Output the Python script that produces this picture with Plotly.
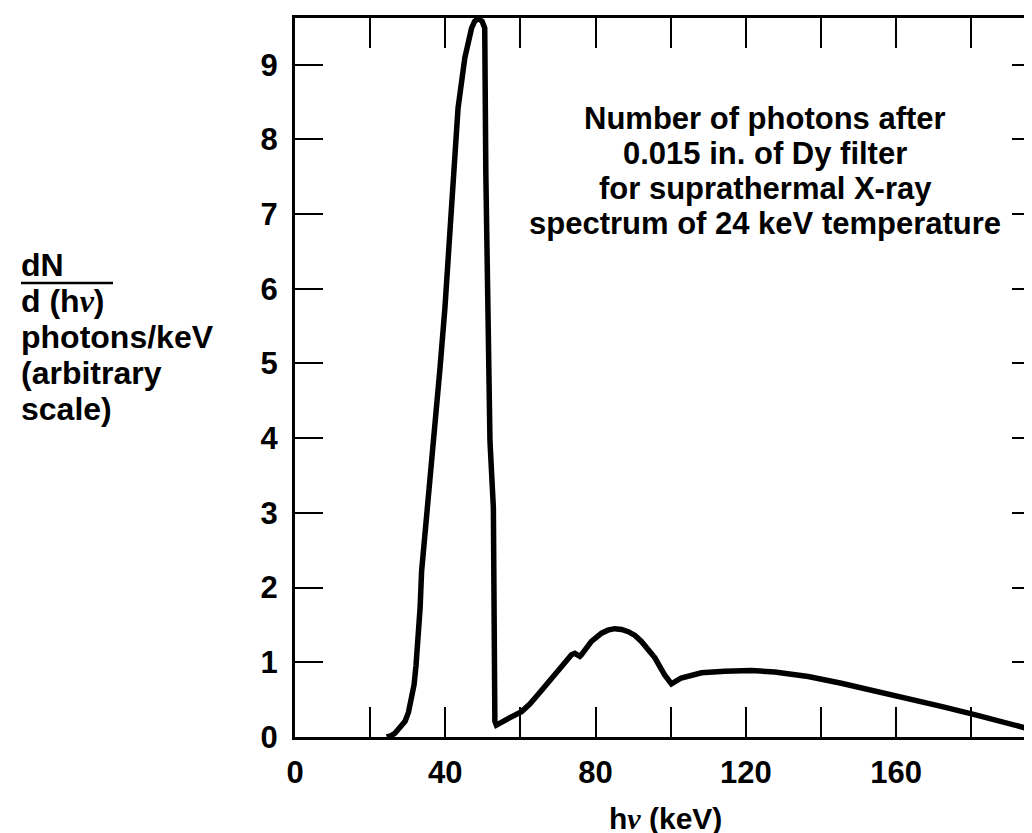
import plotly.graph_objects as go

# ---- data ----
energy_kev = [24.4, 25.5, 26.6, 28.0, 29.3, 30.2, 31.0, 31.7, 32.2, 32.8, 33.3, 33.7, 34.1,
              35.5, 37.2, 38.6, 39.9, 43.4, 45.2, 47.0, 47.8, 48.8, 49.8, 50.5, 50.8, 51.4,
              51.9, 52.8, 53.2, 53.6, 55.9, 58.0, 60.3, 62.5, 64.7, 69.2, 73.6, 74.5, 75.8,
              76.2, 78.9, 81.6, 83.3, 85.1, 86.9, 88.7, 90.5, 92.2, 94.0, 95.8, 98.4, 100.2,
              102.8, 105.5, 108.2, 114.4, 121.5, 127.7, 136.6, 145.4, 154.3, 163.2, 172.0,
              180.9, 189.8, 197.8, 198.3]
photons = [0.0, 0.015, 0.05, 0.12, 0.21, 0.33, 0.50, 0.70, 0.95, 1.28, 1.73, 2.22, 2.44,
           3.07, 4.05, 4.94, 5.74, 8.42, 9.09, 9.49, 9.58, 9.62, 9.58, 9.49, 7.53, 5.83,
           3.96, 3.07, 0.21, 0.16, 0.23, 0.28, 0.34, 0.44, 0.57, 0.83, 1.10, 1.12, 1.08,
           1.10, 1.28, 1.39, 1.43, 1.45, 1.44, 1.41, 1.36, 1.28, 1.18, 1.06, 0.83, 0.71,
           0.79, 0.83, 0.86, 0.88, 0.89, 0.87, 0.81, 0.72, 0.62, 0.52, 0.41,
           0.30, 0.19, 0.08, 0.07]

x_tick_vals = [0, 40, 80, 120, 160]
x_tick_text = ["0", "40", "80", "120", "160"]
y_tick_vals = [0, 1, 2, 3, 4, 5, 6, 7, 8, 9]
y_tick_text = ["0", "1", "2", "3", "4", "5", "6", "7", "8", "9"]

NU = "<span style='font-family:Liberation Serif'><i>ν</i></span>"
note_lines = ["Number of photons after", "0.015 in. of Dy filter",
              "for suprathermal X-ray", "spectrum of 24 keV temperature"]
ytitle_lines = ["dN", "d (h" + NU + ")", "photons/keV", "(arbitrary", "scale)"]
xtitle = "h" + NU + " (keV)"

# ---- layout geometry ----
W, H = 1032, 833
L, R, T, B = 287, 0, 10, 104
PW, PH = W - L - R, H - T - B
X_MAX = 198.3
Y_MAX = 9.625

def px(x):
    return (x - L) / PW

def py(y):
    return (H - B - y) / PH

FONT = "Liberation Sans"
fnt = dict(family=FONT, size=31, color="black", weight="bold")
fnt_note = dict(family=FONT, size=31, color="black", weight="bold")
fnt_ytitle = dict(family=FONT, size=32, color="black", weight="bold")
fnt_xtitle = dict(family=FONT, size=30, color="black", weight="bold")

fig = go.Figure()
fig.add_trace(go.Scatter(x=energy_kev, y=photons, mode="lines",
                         line=dict(color="black", width=5.5), hoverinfo="skip",
                         showlegend=False))
fig.add_trace(go.Scatter(x=energy_kev, y=photons, mode="lines", yaxis="y2",
                         line=dict(color="rgba(0,0,0,0)", width=0), hoverinfo="skip",
                         showlegend=False))

fig.update_layout(
    width=W, height=H,
    margin=dict(l=L, r=R, t=T, b=B, pad=0),
    plot_bgcolor="white", paper_bgcolor="white",
    xaxis=dict(range=[0, X_MAX], showgrid=False, zeroline=False,
               showline=True, linecolor="black", linewidth=3, mirror="allticks",
               ticks="inside", ticklen=30, tickwidth=2, tickcolor="black",
               tickvals=x_tick_vals, ticktext=x_tick_text,
               tickfont=fnt, ticklabelstandoff=6,
               minor=dict(dtick=20, tick0=0, ticks="inside", ticklen=15,
                          tickwidth=2, tickcolor="black", showgrid=False)),
    yaxis=dict(range=[0, Y_MAX], showgrid=False, zeroline=False,
               showline=True, linecolor="black", linewidth=3,
               ticks="inside", ticklen=28, tickwidth=2, tickcolor="black",
               tickvals=y_tick_vals, ticktext=y_tick_text,
               tickfont=fnt, ticklabelstandoff=8),
    yaxis2=dict(range=[0, Y_MAX], overlaying="y", side="right", showgrid=False,
                zeroline=False, showline=False, ticks="inside", ticklen=28,
                tickwidth=2, tickcolor="black", tickvals=y_tick_vals[1:],
                showticklabels=False),
)

anns = []
note_y = [110, 145, 180, 215]
for t, yy in zip(note_lines, note_y):
    anns.append(dict(text=t, x=px(757), y=py(yy), xref="paper", yref="paper",
                     xanchor="center", yanchor="middle", showarrow=False,
                     font=fnt_note, borderpad=0))

yt_y = [257, 293, 329, 365, 401]
for t, yy in zip(ytitle_lines, yt_y):
    anns.append(dict(text=t, x=px(12), y=py(yy), xref="paper", yref="paper",
                     xanchor="left", yanchor="middle", showarrow=False,
                     font=fnt_ytitle, borderpad=0))

anns.append(dict(text=xtitle, x=px(657), y=py(810), xref="paper", yref="paper",
                 xanchor="center", yanchor="middle", showarrow=False,
                 font=fnt_xtitle, borderpad=0))
fig.update_layout(annotations=anns)

fig.add_shape(type="line", xref="paper", yref="paper",
              x0=px(13), x1=px(105), y0=py(275), y1=py(275),
              line=dict(color="black", width=2.5))

fig.write_html("out.html")
